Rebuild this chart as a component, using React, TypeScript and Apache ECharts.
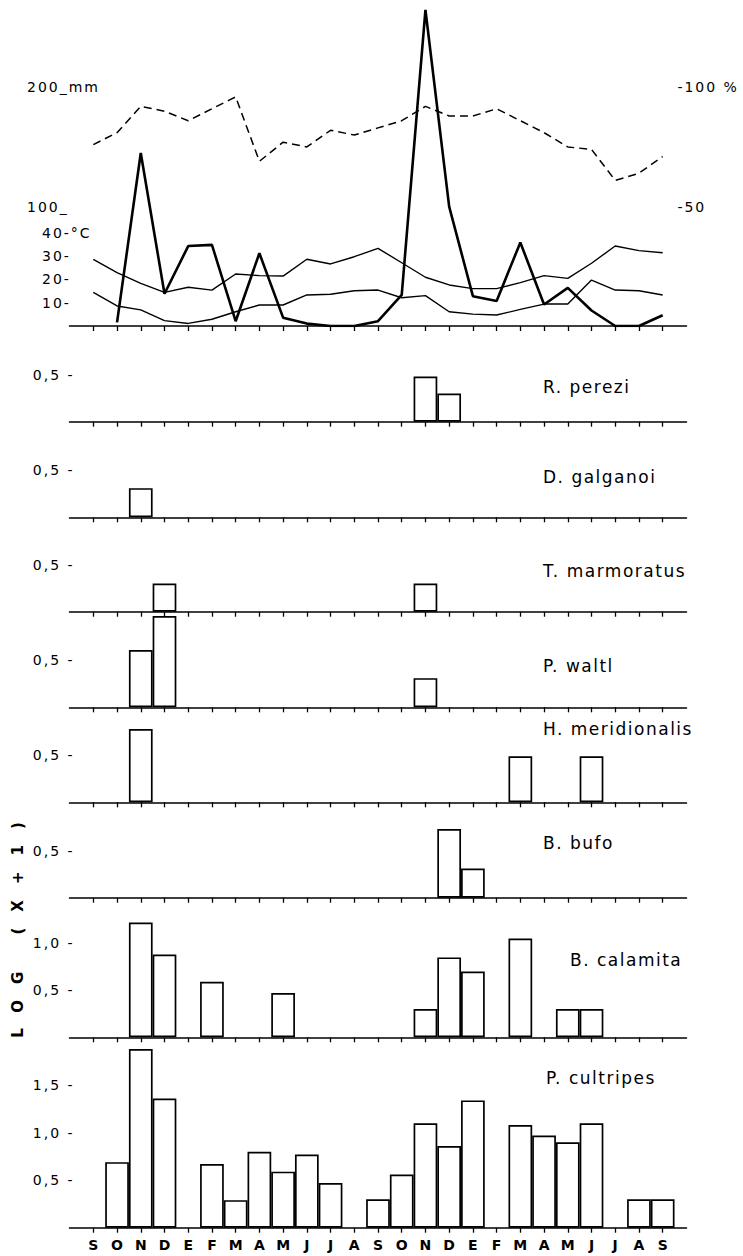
import React, { useEffect, useRef } from 'react';
import * as echarts from 'echarts';

// ---------- data ----------
const monthLabels = ['S', 'O', 'N', 'D', 'E', 'F', 'M', 'A', 'M', 'J', 'J', 'A', 'S', 'O', 'N', 'D', 'E', 'F', 'M', 'A', 'M', 'J', 'J', 'A', 'S'];

// rainfall (mm), thick line
const rainfallMm: (number | null)[] = [null, 3, 145, 27, 67, 68, 4, 61, 7, 2, 0, 0, 4, 26, 265, 100, 25, 21, 70, 18, 32, 13, 0, 0, 9];
// relative humidity (%), dashed line
const humidityPct = [76, 81, 92, 90, 86, 91, 96, 69, 77, 75, 82, 80, 83, 86, 92, 88, 88, 91, 86, 81, 75, 74, 61, 64, 71];
// temperatures (°C), thin lines
const tempUpperC = [28.6, 22.9, 18.3, 14.4, 16.6, 15.4, 22.3, 21.6, 21.4, 28.6, 26.6, 29.7, 33.3, 27.1, 20.9, 17.6, 16, 16, 18.6, 21.6, 20.4, 26.9, 34.3, 32.3, 31.4];
const tempLowerC = [14.4, 8.6, 6.9, 2.3, 1.1, 2.9, 6.1, 9, 9, 13.3, 13.6, 15.1, 15.4, 12.1, 13, 6.1, 5.1, 4.7, 7.1, 9.4, 9.4, 19.7, 15.4, 15.1, 13.3];

// log(x+1) captures per month
const rPerezi = [0, 0, 0, 0, 0, 0, 0, 0, 0, 0, 0, 0, 0, 0, 0.48, 0.3, 0, 0, 0, 0, 0, 0, 0, 0, 0];
const dGalganoi = [0, 0, 0.31, 0, 0, 0, 0, 0, 0, 0, 0, 0, 0, 0, 0, 0, 0, 0, 0, 0, 0, 0, 0, 0, 0];
const tMarmoratus = [0, 0, 0, 0.3, 0, 0, 0, 0, 0, 0, 0, 0, 0, 0, 0.3, 0, 0, 0, 0, 0, 0, 0, 0, 0, 0];
const pWaltl = [0, 0, 0.61, 0.97, 0, 0, 0, 0, 0, 0, 0, 0, 0, 0, 0.31, 0, 0, 0, 0, 0, 0, 0, 0, 0, 0];
const hMeridionalis = [0, 0, 0.78, 0, 0, 0, 0, 0, 0, 0, 0, 0, 0, 0, 0, 0, 0, 0, 0.49, 0, 0, 0.49, 0, 0, 0];
const bBufo = [0, 0, 0, 0, 0, 0, 0, 0, 0, 0, 0, 0, 0, 0, 0, 0.73, 0.31, 0, 0, 0, 0, 0, 0, 0, 0];
const bCalamita = [0, 0, 1.22, 0.88, 0, 0.59, 0, 0, 0.47, 0, 0, 0, 0, 0, 0.3, 0.85, 0.7, 0, 1.05, 0, 0.3, 0.3, 0, 0, 0];
const pCultripes = [0, 0.69, 1.88, 1.36, 0, 0.67, 0.29, 0.8, 0.59, 0.77, 0.47, 0, 0.3, 0.56, 1.1, 0.86, 1.34, 0, 1.08, 0.97, 0.9, 1.1, 0, 0.3, 0.3];

const speciesNames = ['R. perezi', 'D. galganoi', 'T. marmoratus', 'P. waltl', 'H. meridionalis', 'B. bufo', 'B. calamita', 'P. cultripes'];
const speciesValues = [rPerezi, dGalganoi, tMarmoratus, pWaltl, hMeridionalis, bBufo, bCalamita, pCultripes];
const speciesTicks = [[0.5], [0.5], [0.5], [0.5], [0.5], [0.5], [0.5, 1.0], [0.5, 1.0, 1.5]];

const rainTicks = [100, 200];
const tempTicks = [10, 20, 30, 40];
const humidityTicks = [50, 100];
const LOG_LABEL = 'LOG (X+1)';

// ---------- layout ----------
const FONT = 'DejaVu Sans';
const X_MIN = -1;
const X_MAX = 25;
const GRID_LEFT = 69.6;
const GRID_WIDTH = 616.8;
const BAR_WIDTH = GRID_WIDTH / (X_MAX - X_MIN);

const TOP_AXIS_Y = 326;
const RAIN_PX = 1.193; // px per mm
const HUM_PX = 2.387; // px per %
const TEMP_PX = 2.333; // px per °C

// per bar panel: axis (bottom) y, px per log unit, panel height, label position
const panelLayout = [
  { axisY: 421.7, ppu: 94, h: 95, labelX: 543, labelY: 387 },
  { axisY: 517.3, ppu: 94, h: 95, labelX: 543, labelY: 477 },
  { axisY: 611.7, ppu: 94, h: 95, labelX: 543, labelY: 571 },
  { axisY: 707.3, ppu: 94, h: 95, labelX: 543, labelY: 666 },
  { axisY: 802.3, ppu: 94, h: 95, labelX: 543, labelY: 729 },
  { axisY: 897.7, ppu: 94, h: 95, labelX: 543, labelY: 843 },
  { axisY: 1037.3, ppu: 94, h: 130, labelX: 570, labelY: 960 },
  { axisY: 1227.7, ppu: 95, h: 185, labelX: 546, labelY: 1078 },
];

const tickValues = monthLabels.map((_, i) => i);

function makeXAxis(gridIndex: number, showLabels: boolean) {
  return {
    type: 'value',
    gridIndex,
    min: X_MIN,
    max: X_MAX,
    axisLine: { show: true, onZero: false, lineStyle: { color: '#000', width: 1.7 } },
    axisTick: {
      show: true,
      customValues: tickValues,
      length: 5,
      inside: false,
      lineStyle: { color: '#000', width: 1.3 },
    },
    axisLabel: showLabels
      ? {
          show: true,
          customValues: tickValues,
          formatter: (v: number) => monthLabels[Math.round(v)] ?? '',
          fontFamily: FONT,
          fontSize: 14,
          fontWeight: 'bold',
          color: '#000',
          margin: 10,
        }
      : { show: false },
    splitLine: { show: false },
  };
}

function buildOption() {
  const grids: any[] = [
    { left: GRID_LEFT, width: GRID_WIDTH, top: 0, height: TOP_AXIS_Y, outerBoundsMode: 'none', containLabel: false },
  ];
  panelLayout.forEach((p) => {
    grids.push({ left: GRID_LEFT, width: GRID_WIDTH, top: p.axisY - p.h, height: p.h, outerBoundsMode: 'none', containLabel: false });
  });

  const xAxes: any[] = [makeXAxis(0, false)];
  panelLayout.forEach((_, k) => xAxes.push(makeXAxis(k + 1, k === panelLayout.length - 1)));

  const hiddenAxisBits = {
    axisLine: { show: false },
    axisTick: { show: false },
    splitLine: { show: false },
  };

  const yAxes: any[] = [
    {
      type: 'value',
      gridIndex: 0,
      position: 'left',
      min: 0,
      max: TOP_AXIS_Y / RAIN_PX,
      ...hiddenAxisBits,
      axisLabel: {
        customValues: rainTicks,
        formatter: (v: number) => (v === 200 ? '200_mm' : `${v}_`),
        align: 'left',
        margin: GRID_LEFT - 27,
        padding: [0, 0, 12, 0],
        fontFamily: FONT,
        fontSize: 14,
        color: '#000',
      },
    },
    {
      type: 'value',
      gridIndex: 0,
      position: 'left',
      offset: 0,
      min: 0,
      max: TOP_AXIS_Y / TEMP_PX,
      ...hiddenAxisBits,
      axisLabel: {
        customValues: tempTicks,
        formatter: (v: number) => (v === 40 ? '40-°C' : `${v}-`),
        align: 'left',
        margin: GRID_LEFT - 42,
        fontFamily: FONT,
        fontSize: 14,
        color: '#000',
      },
    },
    {
      type: 'value',
      gridIndex: 0,
      position: 'right',
      offset: 0,
      min: 0,
      max: TOP_AXIS_Y / HUM_PX,
      ...hiddenAxisBits,
      axisLabel: {
        customValues: humidityTicks,
        formatter: (v: number) => (v === 100 ? '-100 %' : `-${v}`),
        align: 'left',
        margin: -9,
        fontFamily: FONT,
        fontSize: 14,
        color: '#000',
      },
    },
  ];
  panelLayout.forEach((p, k) => {
    yAxes.push({
      type: 'value',
      gridIndex: k + 1,
      position: 'left',
      min: 0,
      max: p.h / p.ppu,
      ...hiddenAxisBits,
      axisLabel: {
        customValues: speciesTicks[k],
        formatter: (v: number) => `${v.toFixed(1).replace('.', ',')} -`,
        align: 'right',
        margin: -5,
        fontFamily: FONT,
        fontSize: 14,
        color: '#000',
      },
    });
  });

  const pairs = (arr: (number | null)[]) => arr.map((v, i) => [i, v === null ? '-' : v]);

  const series: any[] = [
    {
      type: 'line',
      name: 'Rainfall (mm)',
      xAxisIndex: 0,
      yAxisIndex: 0,
      data: pairs(rainfallMm),
      symbol: 'none',
      lineStyle: { color: '#000', width: 2.6 },
      z: 4,
    },
    {
      type: 'line',
      name: 'Temperature upper (°C)',
      xAxisIndex: 0,
      yAxisIndex: 1,
      data: pairs(tempUpperC),
      symbol: 'none',
      lineStyle: { color: '#000', width: 1.4 },
      z: 3,
    },
    {
      type: 'line',
      name: 'Temperature lower (°C)',
      xAxisIndex: 0,
      yAxisIndex: 1,
      data: pairs(tempLowerC),
      symbol: 'none',
      lineStyle: { color: '#000', width: 1.4 },
      z: 3,
    },
    {
      type: 'line',
      name: 'Humidity (%)',
      xAxisIndex: 0,
      yAxisIndex: 2,
      data: pairs(humidityPct),
      symbol: 'none',
      lineStyle: { color: '#000', width: 1.5, type: [8, 5] },
      z: 3,
    },
  ];

  speciesValues.forEach((vals, k) => {
    series.push({
      type: 'bar',
      name: speciesNames[k],
      xAxisIndex: k + 1,
      yAxisIndex: k + 3,
      data: vals.map((v, i) => [i, v]).filter((d) => d[1] > 0),
      barWidth: BAR_WIDTH,
      clip: false,
      itemStyle: { color: '#fff', borderColor: '#000', borderWidth: 1.7 },
      z: 3,
    });
  });

  const graphic: any[] = panelLayout.map((p, k) => ({
    type: 'text',
    x: p.labelX,
    y: p.labelY,
    style: {
      text: speciesNames[k],
      fill: '#000',
      fontFamily: FONT,
      fontSize: 17,
      verticalAlign: 'middle',
      align: 'left',
    },
  }));
  graphic.push({
    type: 'text',
    x: 18,
    y: 922,
    rotation: Math.PI / 2,
    style: {
      text: LOG_LABEL,
      fill: '#000',
      fontFamily: FONT,
      fontSize: 15,
      fontWeight: 'bold',
      align: 'center',
      verticalAlign: 'middle',
    },
  });

  return {
    animation: false,
    backgroundColor: '#fff',
    textStyle: { fontFamily: FONT, color: '#000' },
    grid: grids,
    xAxis: xAxes,
    yAxis: yAxes,
    series,
    graphic,
  };
}

export default function App() {
  const ref = useRef<HTMLDivElement>(null);
  useEffect(() => {
    const el = ref.current;
    if (!el) return;
    const chart = echarts.init(el, null, { renderer: 'svg' });
    chart.setOption(buildOption() as any);
    const spaceText = () => {
      el.querySelectorAll('text').forEach((t) => {
        const s = t.textContent || '';
        if (s === LOG_LABEL) (t as SVGTextElement).style.letterSpacing = '16px';
        else if (speciesNames.indexOf(s) >= 0) (t as SVGTextElement).style.letterSpacing = '1.5px';
        else if (s.length > 1) (t as SVGTextElement).style.letterSpacing = '2px';
      });
    };
    spaceText();
    chart.on('finished', spaceText);
    return () => {
      chart.dispose();
    };
  }, []);
  return (
    <div
      ref={ref}
      style={{ position: 'absolute', left: 0, top: 0, width: 743, height: 1256, background: '#fff' }}
    />
  );
}
